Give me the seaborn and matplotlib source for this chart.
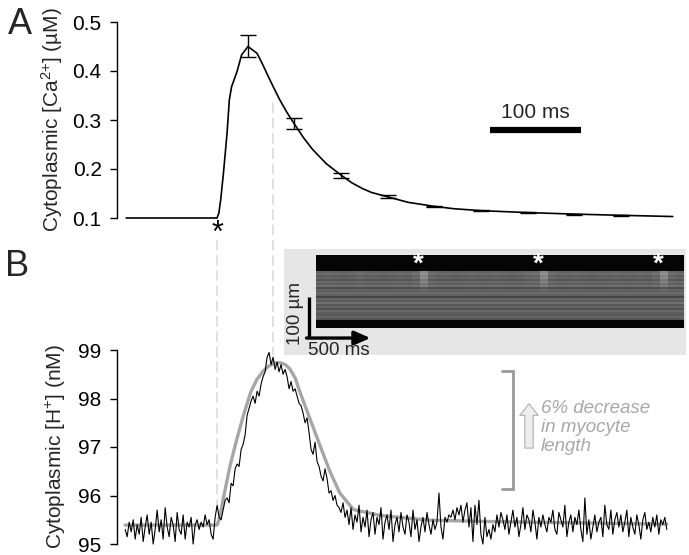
import numpy as np
import pandas as pd
import matplotlib
matplotlib.use("Agg")
import matplotlib.pyplot as plt
import seaborn as sns
from matplotlib.patches import ConnectionPatch

# ---- Panel A: averaged Ca2+ transient (time in ms, stimulus at 0) ----
ca_time = [-100, 0, 2, 4, 7, 11, 13.5, 16, 22, 27, 34, 44, 50, 55, 62, 69, 77,
           85, 95, 105, 120, 136, 148, 160, 170, 188, 210, 238, 260, 290, 342,
           392, 444, 501]
ca_conc = [0.100, 0.100, 0.110, 0.137, 0.191, 0.273, 0.341, 0.368, 0.399, 0.433,
           0.450, 0.436, 0.414, 0.394, 0.367, 0.341, 0.315, 0.292, 0.264, 0.240,
           0.211, 0.188, 0.172, 0.160, 0.152, 0.143, 0.132, 0.124, 0.119, 0.115,
           0.111, 0.108, 0.1055, 0.103]
err_time = [34, 85, 136, 188, 238, 290, 342, 392, 444]
err_mean = [0.451, 0.293, 0.187, 0.143, 0.124, 0.115, 0.111, 0.108, 0.1055]
err_sd = [0.022, 0.012, 0.005, 0.003, 0.0015, 0.0012, 0.001, 0.001, 0.001]

# ---- Panel B: cytoplasmic H+ (raw trace and fit) ----
h_raw = [
    # baseline
    95.30, 95.15, 95.45, 95.25, 95.50, 95.10, 95.40, 95.20, 95.55, 95.05,
    95.35, 95.60, 95.20, 95.45, 95.00, 95.30, 95.70, 95.25, 95.50, 95.10,
    95.75, 95.35, 95.15, 95.55, 95.40, 95.05, 95.65, 95.30, 95.20, 95.60,
    95.10, 95.45, 95.35, 95.55, 95.00, 95.40, 95.50, 95.30, 95.45, 95.35,
    95.60, 95.40, 95.50, 95.20, 95.10, 95.55,
    # rise
    95.80, 95.55, 95.50, 95.70, 95.90, 95.95, 95.85, 96.25, 96.20, 96.55,
    96.65, 96.60, 96.95, 97.05, 97.25, 97.65, 97.80, 97.95, 98.05, 97.90,
    98.15, 98.05, 98.30, 98.45, 98.55, 98.85,
    # peak and decay
    98.95, 98.70, 98.85, 98.60, 98.75, 98.55, 98.70, 98.50, 98.60, 98.45,
    98.20, 98.35, 98.15, 98.20, 98.05, 97.90, 97.85, 97.70, 97.50, 97.60,
    97.30, 96.95, 96.85, 97.10, 96.70, 96.60, 96.40, 96.30, 96.55, 96.35,
    96.05, 96.10, 95.90, 96.00, 95.80, 95.75,
    # tail
    95.65, 95.85, 95.55, 95.70, 95.40, 95.75, 95.30, 95.60, 95.45, 95.80,
    95.25, 95.55, 95.35, 95.70, 95.15, 95.50, 95.65, 95.20, 95.55, 95.40,
    95.75, 95.10, 95.45, 95.60, 95.30, 95.70, 95.05, 95.40, 95.55, 95.25,
    95.65, 95.35, 95.20, 95.60, 95.45, 95.15, 95.70, 95.30, 95.50, 95.05,
    95.35, 95.55, 95.25, 95.65, 95.40, 95.20, 95.50, 95.30, 95.45, 96.05,
    95.35, 95.10, 95.55, 95.45, 95.60, 95.55, 95.70, 95.50, 95.75, 95.60,
    95.80, 95.45, 95.70, 95.85, 95.35, 95.75, 95.05, 95.80, 95.40, 95.90,
    95.20, 95.00, 95.55, 95.15, 95.30, 95.10, 95.40, 95.25, 95.60, 95.35,
    95.65, 95.50, 95.30, 95.60, 95.20, 95.45, 95.70, 95.35, 95.55, 95.15,
    95.40, 95.75, 95.30, 95.60, 95.50, 95.25, 95.70, 95.45, 95.10, 95.55,
    95.35, 95.60, 95.40, 95.25, 95.55, 95.45, 95.70, 95.30, 95.20, 95.65,
    95.50, 95.35, 95.80, 95.15, 95.45, 95.60, 95.25, 95.55, 95.40, 95.70,
    95.30, 95.05, 95.95, 95.20, 95.50, 95.10, 95.35, 95.60, 95.25, 95.45,
    95.55, 95.15, 95.80, 95.40, 95.30, 95.70, 95.20, 95.50, 95.65, 95.35,
    95.60, 95.25, 95.45, 95.70, 95.15, 95.55, 95.35, 95.20, 95.60, 95.40,
    95.10, 95.50, 95.65, 95.30, 95.45, 95.25, 95.55, 95.35, 95.60, 95.20,
    95.50, 95.40, 95.55, 95.30,
]
h_start, h_end = -101, 494.5
h_fit_time = [-101, 0, 3, 7, 14.5, 22, 29, 37, 44, 51, 57, 63, 69, 75, 80, 86,
              91, 102, 113, 124, 135, 150, 179, 234, 308, 380, 494.5]
h_fit = [95.39, 95.39, 95.55, 95.95, 96.63, 97.18, 97.65, 98.13, 98.40, 98.57,
         98.67, 98.73, 98.74, 98.70, 98.61, 98.42, 98.14, 97.59, 97.04, 96.50,
         96.05, 95.71, 95.59, 95.49, 95.46, 95.44, 95.41]

# ---- kymograph inset (line-scan image) ----
kymo_rows = [0.02] * 8 + [0.38, 0.42, 0.36, 0.40, 0.33, 0.41, 0.37, 0.43, 0.30,
                          0.39, 0.35, 0.42, 0.38, 0.27, 0.40, 0.36, 0.44, 0.34,
                          0.39, 0.31, 0.41, 0.37, 0.35, 0.40, 0.33] + [0.02] * 4
kymo_band_rows = [0] * 8 + [1, 1, 1, 0.95, 0.85, 0.7, 0.55, 0.4, 0.25, 0.15,
                            0.08] + [0] * 18
kymo_cols = [0, 0.01, 0, -0.01, 0, 0.02, 0, 0, -0.01, 0, 0.01, 0, 0.03,
             0.16, 0.02, 0, 0, -0.01, 0, 0.01, 0, 0, 0.01, 0, -0.01, 0, 0.02,
             0.03, 0.15, 0.02, 0, 0, 0.01, 0, -0.01, 0, 0, 0.01, 0, 0, 0.01,
             0, 0.03, 0.15, 0.02, 0]

sns.set_theme(style="ticks")
plt.rcParams["font.family"] = ["Liberation Sans", "DejaVu Sans"]
plt.rcParams["mathtext.fontset"] = "custom"
plt.rcParams["mathtext.rm"] = "Liberation Sans"
plt.rcParams["mathtext.it"] = "Liberation Sans:italic"

fig = plt.figure(figsize=(6.89, 5.55), dpi=100)
W, H = 689, 555
xlim = (-110, 509)
fs = 15
fs_small = 13.5

def style_axis(ax):
    sns.despine(ax=ax, bottom=True)
    ax.set_xticks([])
    ax.set_xlim(*xlim)
    ax.spines["left"].set_linewidth(1.0)
    ax.spines["left"].set_color("black")
    ax.tick_params(axis="y", direction="out", length=5, width=1.0,
                   labelsize=fs, pad=6, colors="black")
    ax.set_facecolor("none")

# Panel A
axA = fig.add_axes([117 / W, 1 - 218 / H, 563 / W, 196 / H])
dfA = pd.DataFrame({"t": ca_time, "ca": ca_conc})
sns.lineplot(data=dfA, x="t", y="ca", ax=axA, color="black", lw=1.2)
axA.errorbar(err_time, err_mean, yerr=err_sd, fmt="none", ecolor="black",
             elinewidth=1.0, capsize=6, capthick=1.0)
for ln in axA.lines:
    ln.set_clip_on(False)
axA.set_ylim(0.1, 0.5)
axA.set_yticks([0.1, 0.2, 0.3, 0.4, 0.5])
axA.set_yticklabels(["0.1", "0.2", "0.3", "0.4", "0.5"])
axA.set_xlabel("")
axA.set_ylabel("Cytoplasmic [Ca$^{2{+}}$] (\u00b5M)", fontsize=fs)
axA.yaxis.set_label_coords(-0.092, 0.5)
style_axis(axA)
# 100 ms scale bar
axA.plot([300, 400], [0.28, 0.28], color="black", lw=4.5, solid_capstyle="butt")
axA.text(350, 0.296, "100 ms", ha="center", va="bottom", fontsize=fs)
axA.text(0, 0.068, "*", ha="center", va="center", fontsize=22, color="black")

# Panel B
axB = fig.add_axes([117 / W, 1 - 544 / H, 563 / W, 194 / H])
h_time = np.linspace(h_start, h_end, len(h_raw))
dfB = pd.DataFrame({"t": h_time, "h": h_raw})
dfF = pd.DataFrame({"t": h_fit_time, "h": h_fit})
sns.lineplot(data=dfF, x="t", y="h", ax=axB, color="#a6a6a6", lw=2.4)
sns.lineplot(data=dfB, x="t", y="h", ax=axB, color="black", lw=0.8)
for ln in axB.lines:
    ln.set_clip_on(False)
axB.set_ylim(95, 99)
axB.set_yticks([95, 96, 97, 98, 99])
axB.set_xlabel("")
axB.set_ylabel("Cytoplasmic [H$^{+}$] (nM)", fontsize=fs)
axB.yaxis.set_label_coords(-0.087, 0.5)
style_axis(axB)

# length-change bracket and arrow
axB.plot([313, 325, 325, 313], [98.57, 98.57, 96.14, 96.14], color="#999999",
         lw=2.0, clip_on=False, solid_joinstyle="miter")
axB.annotate("", xy=(343, 97.95), xytext=(343, 96.92),
             arrowprops=dict(arrowstyle="simple,head_width=1.1,head_length=0.7,tail_width=0.5",
                             fc="#eeeeee", ec="#b0b0b0", lw=0.8, mutation_scale=12))
axB.text(356, 97.96, "6% decrease\nin myocyte\nlength", ha="left", va="top",
         fontsize=fs_small, style="italic", color="#a8a8a8", linespacing=1.12)

# dashed guide lines linking both panels
for xA, yA, yB in [(0, 0.055, 95.81), (61.5, 0.335, 98.91)]:
    con = ConnectionPatch(xyA=(xA, yA), coordsA=axA.transData,
                          xyB=(xA, yB), coordsB=axB.transData,
                          color="#d4d4d4", lw=1.0, linestyle=(0, (7, 4)))
    fig.add_artist(con)

# inset with kymograph
axI = fig.add_axes([284 / W, 1 - 355 / H, 402 / W, 106 / H])
axI.set_facecolor("#e6e6e6")
for s in axI.spines.values():
    s.set_visible(False)
axI.set_xticks([])
axI.set_yticks([])
axI.set_xlim(0, 1)
axI.set_ylim(0, 1)
img = np.array(kymo_rows)[:, None] + np.array(kymo_band_rows)[:, None] * np.array(kymo_cols)[None, :]
axI.imshow(img, cmap="gray", vmin=0, vmax=1, aspect="auto", interpolation="nearest",
           extent=(0.080, 0.993, 0.255, 0.943))
for sx in [0.333, 0.632, 0.930]:
    axI.text(sx, 0.855, "*", ha="center", va="center", fontsize=20, color="white",
             fontweight="bold")
axI.plot([0.062, 0.062], [0.547, 0.160], color="black", lw=2.4, solid_capstyle="butt")
axI.annotate("", xy=(0.215, 0.160), xytext=(0.056, 0.160),
             arrowprops=dict(arrowstyle="-|>,head_width=0.35,head_length=0.8",
                             color="black", lw=2.4, shrinkA=0, shrinkB=0))
axI.text(0.028, 0.39, "100 \u00b5m", rotation=90, ha="center", va="center", fontsize=fs_small)
axI.text(0.137, 0.045, "500 ms", ha="center", va="center", fontsize=fs_small)

# panel letters
fig.text(8 / W, 1 - 25 / H, "A", fontsize=26, ha="left", va="center")
fig.text(5 / W, 1 - 267 / H, "B", fontsize=26, ha="left", va="center")

fig.savefig("out.png", dpi=100)
